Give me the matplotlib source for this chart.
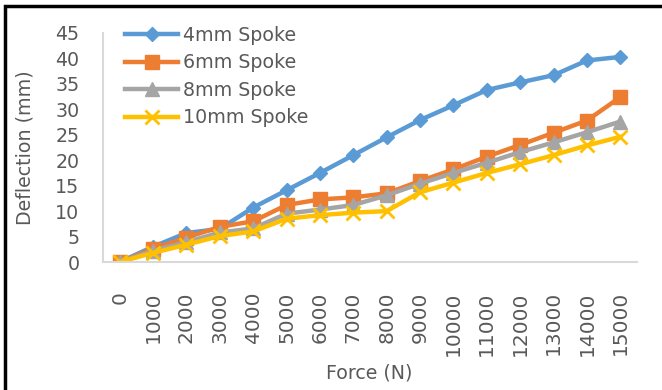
import matplotlib as mpl
mpl.use('Agg')
from matplotlib import pyplot as plt
from matplotlib.patches import Rectangle

plt.rcParams['font.family'] = ['DejaVu Sans']

# data
force = ['0', '1000', '2000', '3000', '4000', '5000', '6000', '7000',
         '8000', '9000', '10000', '11000', '12000', '13000', '14000', '15000']
spoke_4mm = [0, 3.0, 5.7, 6.5, 10.7, 14.1, 17.5, 21.0,
             24.5, 27.9, 30.8, 33.8, 35.3, 36.7, 39.6, 40.3]
spoke_6mm = [0, 2.6, 4.8, 6.9, 8.0, 11.2, 12.3, 12.7,
             13.5, 15.9, 18.2, 20.7, 23.0, 25.4, 27.8, 32.4]
spoke_8mm = [0, 2.2, 3.9, 5.8, 6.6, 9.5, 10.3, 11.2,
             13.1, 15.4, 17.5, 19.5, 21.6, 23.5, 25.5, 27.6]
spoke_10mm = [0, 1.8, 3.4, 5.1, 6.0, 8.5, 9.2, 9.7,
              10.0, 13.7, 15.6, 17.5, 19.2, 21.0, 22.9, 24.6]
yticks = [0, 5, 10, 15, 20, 25, 30, 35, 40, 45]

TXT = '#595959'
FS = 13.7

fig = plt.figure(figsize=(6.62, 3.90), dpi=100)
ax = fig.add_axes([103 / 662, 1 - 262 / 390, (637 - 103) / 662, (262 - 33) / 390])

x = range(len(force))
ax.plot(x, spoke_4mm, color='#5B9BD5', lw=3.2, marker='D', ms=7, label='4mm Spoke')
ax.plot(x, spoke_6mm, color='#ED7D31', lw=3.2, marker='s', ms=9.5, label='6mm Spoke')
ax.plot(x, spoke_8mm, color='#A5A5A5', lw=3.2, marker='^', ms=10, label='8mm Spoke')
ax.plot(x, spoke_10mm, color='#FFC000', lw=3.2, marker='x', ms=10, mew=2, label='10mm Spoke')

ax.set_xlim(-0.5, len(force) - 0.5)
ax.set_ylim(0, 45)
ax.set_yticks(yticks)
ax.set_xticks(list(x))
ax.set_xticklabels(force, rotation=90, va='top', ha='center', fontsize=14.5)
ax.tick_params(length=0, labelcolor=TXT)
ax.tick_params(axis='y', pad=17, labelsize=FS)
ax.tick_params(axis='x', pad=21)

for s in ['top', 'right']:
    ax.spines[s].set_visible(False)
for s in ['left', 'bottom']:
    ax.spines[s].set_color('#D9D9D9')
    ax.spines[s].set_linewidth(1.5)

ax.set_ylabel('Deflection (mm)', fontsize=FS, color=TXT)
ax.yaxis.set_label_coords(-0.129, 0.5)
fig.text(369 / 662, 1 - 373 / 390, 'Force (N)', fontsize=FS, color=TXT,
         ha='center', va='center')

ax.legend(loc='upper left', bbox_to_anchor=(0.027, 1.065), frameon=False,
          fontsize=FS, labelcolor=TXT, handlelength=2.8, handletextpad=0.26,
          labelspacing=0.45, borderaxespad=0)

# black frame around the figure (left and top edges visible)
fig.patches.append(Rectangle((5 / 662, -0.1), 1.1, 1.1 - 6 / 390, transform=fig.transFigure,
                             fill=False, edgecolor='black', lw=2.5))

fig.savefig('out.png', dpi=100)
